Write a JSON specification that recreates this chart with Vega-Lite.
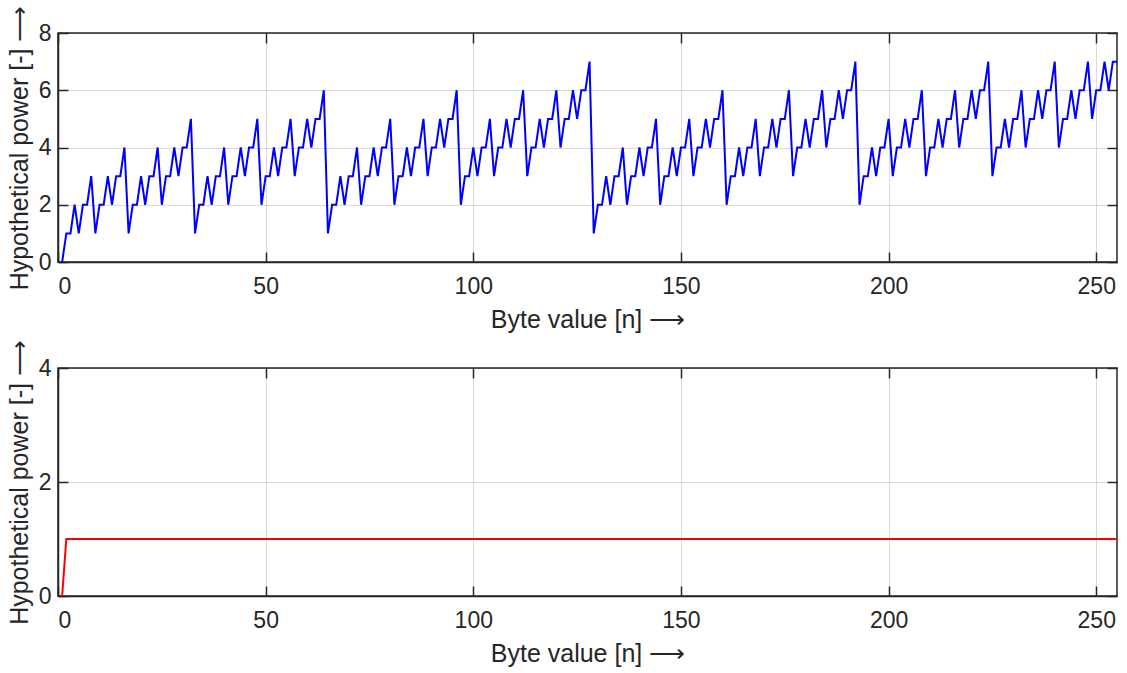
{
"$schema": "https://vega.github.io/schema/vega-lite/v6.json",
"background": "white",
"padding": {"top": 4, "left": 6, "right": 10, "bottom": 0},
"spacing": 5,
"datasets": {"hw": [
{"n":1,"a":0,"b":0},{"n":2,"a":1,"b":1},{"n":3,"a":1,"b":1},{"n":4,"a":2,"b":1},{"n":5,"a":1,"b":1},{"n":6,"a":2,"b":1},{"n":7,"a":2,"b":1},{"n":8,"a":3,"b":1},{"n":9,"a":1,"b":1},{"n":10,"a":2,"b":1},{"n":11,"a":2,"b":1},{"n":12,"a":3,"b":1},{"n":13,"a":2,"b":1},{"n":14,"a":3,"b":1},{"n":15,"a":3,"b":1},{"n":16,"a":4,"b":1},
{"n":17,"a":1,"b":1},{"n":18,"a":2,"b":1},{"n":19,"a":2,"b":1},{"n":20,"a":3,"b":1},{"n":21,"a":2,"b":1},{"n":22,"a":3,"b":1},{"n":23,"a":3,"b":1},{"n":24,"a":4,"b":1},{"n":25,"a":2,"b":1},{"n":26,"a":3,"b":1},{"n":27,"a":3,"b":1},{"n":28,"a":4,"b":1},{"n":29,"a":3,"b":1},{"n":30,"a":4,"b":1},{"n":31,"a":4,"b":1},{"n":32,"a":5,"b":1},
{"n":33,"a":1,"b":1},{"n":34,"a":2,"b":1},{"n":35,"a":2,"b":1},{"n":36,"a":3,"b":1},{"n":37,"a":2,"b":1},{"n":38,"a":3,"b":1},{"n":39,"a":3,"b":1},{"n":40,"a":4,"b":1},{"n":41,"a":2,"b":1},{"n":42,"a":3,"b":1},{"n":43,"a":3,"b":1},{"n":44,"a":4,"b":1},{"n":45,"a":3,"b":1},{"n":46,"a":4,"b":1},{"n":47,"a":4,"b":1},{"n":48,"a":5,"b":1},
{"n":49,"a":2,"b":1},{"n":50,"a":3,"b":1},{"n":51,"a":3,"b":1},{"n":52,"a":4,"b":1},{"n":53,"a":3,"b":1},{"n":54,"a":4,"b":1},{"n":55,"a":4,"b":1},{"n":56,"a":5,"b":1},{"n":57,"a":3,"b":1},{"n":58,"a":4,"b":1},{"n":59,"a":4,"b":1},{"n":60,"a":5,"b":1},{"n":61,"a":4,"b":1},{"n":62,"a":5,"b":1},{"n":63,"a":5,"b":1},{"n":64,"a":6,"b":1},
{"n":65,"a":1,"b":1},{"n":66,"a":2,"b":1},{"n":67,"a":2,"b":1},{"n":68,"a":3,"b":1},{"n":69,"a":2,"b":1},{"n":70,"a":3,"b":1},{"n":71,"a":3,"b":1},{"n":72,"a":4,"b":1},{"n":73,"a":2,"b":1},{"n":74,"a":3,"b":1},{"n":75,"a":3,"b":1},{"n":76,"a":4,"b":1},{"n":77,"a":3,"b":1},{"n":78,"a":4,"b":1},{"n":79,"a":4,"b":1},{"n":80,"a":5,"b":1},
{"n":81,"a":2,"b":1},{"n":82,"a":3,"b":1},{"n":83,"a":3,"b":1},{"n":84,"a":4,"b":1},{"n":85,"a":3,"b":1},{"n":86,"a":4,"b":1},{"n":87,"a":4,"b":1},{"n":88,"a":5,"b":1},{"n":89,"a":3,"b":1},{"n":90,"a":4,"b":1},{"n":91,"a":4,"b":1},{"n":92,"a":5,"b":1},{"n":93,"a":4,"b":1},{"n":94,"a":5,"b":1},{"n":95,"a":5,"b":1},{"n":96,"a":6,"b":1},
{"n":97,"a":2,"b":1},{"n":98,"a":3,"b":1},{"n":99,"a":3,"b":1},{"n":100,"a":4,"b":1},{"n":101,"a":3,"b":1},{"n":102,"a":4,"b":1},{"n":103,"a":4,"b":1},{"n":104,"a":5,"b":1},{"n":105,"a":3,"b":1},{"n":106,"a":4,"b":1},{"n":107,"a":4,"b":1},{"n":108,"a":5,"b":1},{"n":109,"a":4,"b":1},{"n":110,"a":5,"b":1},{"n":111,"a":5,"b":1},{"n":112,"a":6,"b":1},
{"n":113,"a":3,"b":1},{"n":114,"a":4,"b":1},{"n":115,"a":4,"b":1},{"n":116,"a":5,"b":1},{"n":117,"a":4,"b":1},{"n":118,"a":5,"b":1},{"n":119,"a":5,"b":1},{"n":120,"a":6,"b":1},{"n":121,"a":4,"b":1},{"n":122,"a":5,"b":1},{"n":123,"a":5,"b":1},{"n":124,"a":6,"b":1},{"n":125,"a":5,"b":1},{"n":126,"a":6,"b":1},{"n":127,"a":6,"b":1},{"n":128,"a":7,"b":1},
{"n":129,"a":1,"b":1},{"n":130,"a":2,"b":1},{"n":131,"a":2,"b":1},{"n":132,"a":3,"b":1},{"n":133,"a":2,"b":1},{"n":134,"a":3,"b":1},{"n":135,"a":3,"b":1},{"n":136,"a":4,"b":1},{"n":137,"a":2,"b":1},{"n":138,"a":3,"b":1},{"n":139,"a":3,"b":1},{"n":140,"a":4,"b":1},{"n":141,"a":3,"b":1},{"n":142,"a":4,"b":1},{"n":143,"a":4,"b":1},{"n":144,"a":5,"b":1},
{"n":145,"a":2,"b":1},{"n":146,"a":3,"b":1},{"n":147,"a":3,"b":1},{"n":148,"a":4,"b":1},{"n":149,"a":3,"b":1},{"n":150,"a":4,"b":1},{"n":151,"a":4,"b":1},{"n":152,"a":5,"b":1},{"n":153,"a":3,"b":1},{"n":154,"a":4,"b":1},{"n":155,"a":4,"b":1},{"n":156,"a":5,"b":1},{"n":157,"a":4,"b":1},{"n":158,"a":5,"b":1},{"n":159,"a":5,"b":1},{"n":160,"a":6,"b":1},
{"n":161,"a":2,"b":1},{"n":162,"a":3,"b":1},{"n":163,"a":3,"b":1},{"n":164,"a":4,"b":1},{"n":165,"a":3,"b":1},{"n":166,"a":4,"b":1},{"n":167,"a":4,"b":1},{"n":168,"a":5,"b":1},{"n":169,"a":3,"b":1},{"n":170,"a":4,"b":1},{"n":171,"a":4,"b":1},{"n":172,"a":5,"b":1},{"n":173,"a":4,"b":1},{"n":174,"a":5,"b":1},{"n":175,"a":5,"b":1},{"n":176,"a":6,"b":1},
{"n":177,"a":3,"b":1},{"n":178,"a":4,"b":1},{"n":179,"a":4,"b":1},{"n":180,"a":5,"b":1},{"n":181,"a":4,"b":1},{"n":182,"a":5,"b":1},{"n":183,"a":5,"b":1},{"n":184,"a":6,"b":1},{"n":185,"a":4,"b":1},{"n":186,"a":5,"b":1},{"n":187,"a":5,"b":1},{"n":188,"a":6,"b":1},{"n":189,"a":5,"b":1},{"n":190,"a":6,"b":1},{"n":191,"a":6,"b":1},{"n":192,"a":7,"b":1},
{"n":193,"a":2,"b":1},{"n":194,"a":3,"b":1},{"n":195,"a":3,"b":1},{"n":196,"a":4,"b":1},{"n":197,"a":3,"b":1},{"n":198,"a":4,"b":1},{"n":199,"a":4,"b":1},{"n":200,"a":5,"b":1},{"n":201,"a":3,"b":1},{"n":202,"a":4,"b":1},{"n":203,"a":4,"b":1},{"n":204,"a":5,"b":1},{"n":205,"a":4,"b":1},{"n":206,"a":5,"b":1},{"n":207,"a":5,"b":1},{"n":208,"a":6,"b":1},
{"n":209,"a":3,"b":1},{"n":210,"a":4,"b":1},{"n":211,"a":4,"b":1},{"n":212,"a":5,"b":1},{"n":213,"a":4,"b":1},{"n":214,"a":5,"b":1},{"n":215,"a":5,"b":1},{"n":216,"a":6,"b":1},{"n":217,"a":4,"b":1},{"n":218,"a":5,"b":1},{"n":219,"a":5,"b":1},{"n":220,"a":6,"b":1},{"n":221,"a":5,"b":1},{"n":222,"a":6,"b":1},{"n":223,"a":6,"b":1},{"n":224,"a":7,"b":1},
{"n":225,"a":3,"b":1},{"n":226,"a":4,"b":1},{"n":227,"a":4,"b":1},{"n":228,"a":5,"b":1},{"n":229,"a":4,"b":1},{"n":230,"a":5,"b":1},{"n":231,"a":5,"b":1},{"n":232,"a":6,"b":1},{"n":233,"a":4,"b":1},{"n":234,"a":5,"b":1},{"n":235,"a":5,"b":1},{"n":236,"a":6,"b":1},{"n":237,"a":5,"b":1},{"n":238,"a":6,"b":1},{"n":239,"a":6,"b":1},{"n":240,"a":7,"b":1},
{"n":241,"a":4,"b":1},{"n":242,"a":5,"b":1},{"n":243,"a":5,"b":1},{"n":244,"a":6,"b":1},{"n":245,"a":5,"b":1},{"n":246,"a":6,"b":1},{"n":247,"a":6,"b":1},{"n":248,"a":7,"b":1},{"n":249,"a":5,"b":1},{"n":250,"a":6,"b":1},{"n":251,"a":6,"b":1},{"n":252,"a":7,"b":1},{"n":253,"a":6,"b":1},{"n":254,"a":7,"b":1},{"n":255,"a":7,"b":1}
]},
"vconcat": [
{
"width": 1059, "height": 229,
"data": {"name": "hw"},
"layer": [
{"mark": {"type": "line", "color": "#0000ff", "strokeWidth": 2, "clip": true},
"encoding": {
"x": {"field": "n", "type": "quantitative", "scale": {"domain": [0, 255], "nice": false, "zero": false},
"axis": {"title": "Byte value [n] ⟶", "values": [0,50,100,150,200,250], "grid": true}},
"y": {"field": "a", "type": "quantitative", "scale": {"domain": [0, 8], "nice": false},
"axis": {"title": "Hypothetical power [-] ⟶", "values": [0,2,4,6,8], "grid": true}}
}},
{"mark": {"type": "line", "opacity": 0},
"encoding": {
"x": {"field": "n", "type": "quantitative", "axis": {"orient": "top", "title": null, "labels": false, "grid": false, "domain": false, "values": [0,50,100,150,200,250]}},
"y": {"field": "a", "type": "quantitative", "axis": {"orient": "right", "title": null, "labels": false, "grid": false, "domain": false, "values": [0,2,4,6,8]}}
}}
],
"resolve": {"axis": {"x": "independent", "y": "independent"}}
},
{
"width": 1059, "height": 228,
"data": {"name": "hw"},
"layer": [
{"mark": {"type": "line", "color": "#ff0000", "strokeWidth": 2, "clip": true},
"encoding": {
"x": {"field": "n", "type": "quantitative", "scale": {"domain": [0, 255], "nice": false, "zero": false},
"axis": {"title": "Byte value [n] ⟶", "values": [0,50,100,150,200,250], "grid": true}},
"y": {"field": "b", "type": "quantitative", "scale": {"domain": [0, 4], "nice": false},
"axis": {"title": "Hypothetical power [-] ⟶", "values": [0,2,4], "grid": true}}
}},
{"mark": {"type": "line", "opacity": 0},
"encoding": {
"x": {"field": "n", "type": "quantitative", "axis": {"orient": "top", "title": null, "labels": false, "grid": false, "domain": false, "values": [0,50,100,150,200,250]}},
"y": {"field": "b", "type": "quantitative", "axis": {"orient": "right", "title": null, "labels": false, "grid": false, "domain": false, "values": [0,2,4]}}
}}
],
"resolve": {"axis": {"x": "independent", "y": "independent"}}
}
],
"config": {
"view": {"stroke": "#262626", "strokeWidth": 1.5},
"axis": {
"labelFont": "Liberation Sans", "titleFont": "Liberation Sans",
"labelFontSize": 23, "titleFontSize": 25, "titleFontWeight": "normal",
"labelColor": "#262626", "titleColor": "#262626",
"domainColor": "#262626", "domainWidth": 1.5,
"tickColor": "#262626", "tickWidth": 1.5, "tickSize": -10,
"gridColor": "#000000", "gridOpacity": 0.14, "gridWidth": 1
},
"axisX": {"labelPadding": 23, "titlePadding": 9},
"axisY": {"labelPadding": 17, "titlePadding": 6}
}
}
